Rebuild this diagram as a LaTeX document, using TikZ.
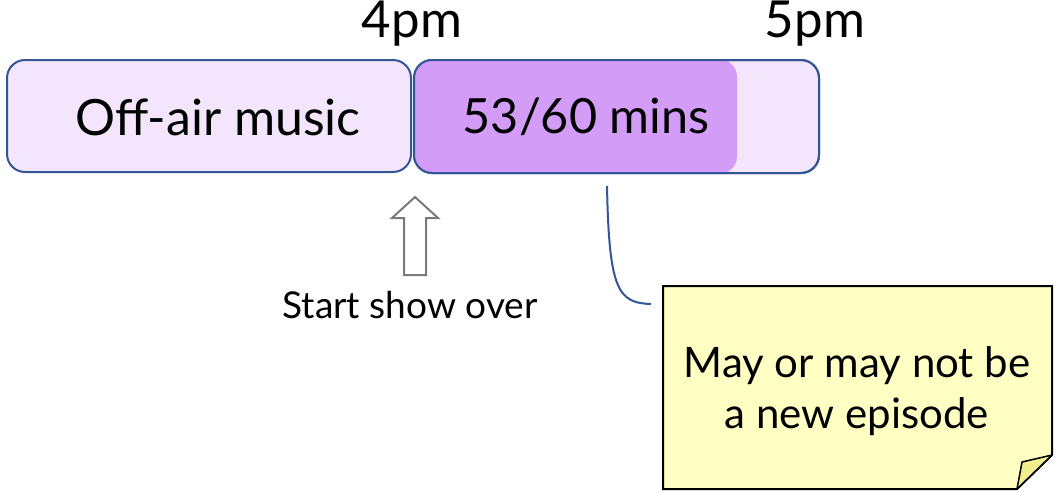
\documentclass[tikz,border=0pt]{standalone}
\usepackage{fontspec}
\setmainfont{Lato}
\usetikzlibrary{calc}
\definecolor{bordblue}{RGB}{52,86,150}
\definecolor{lav}{RGB}{243,229,252}
\definecolor{prog}{RGB}{211,156,246}
\definecolor{arrgrey}{RGB}{122,122,122}
\definecolor{notefill}{RGB}{255,255,195}
\definecolor{foldfill}{RGB}{240,238,142}
\tikzset{
  slot/.style={draw=bordblue, line width=2pt, fill=lav, rounded corners=18pt, inner sep=0pt},
  bigtxt/.style={font=\fontsize{50}{56}\selectfont, inner sep=0pt},
  timetxt/.style={font=\fontsize{51}{56}\selectfont, inner sep=0pt, text height=32pt, text depth=10pt},
}
\begin{document}
\begin{tikzpicture}[x=1pt,y=-1pt]
\useasboundingbox (0,0) rectangle (1056,491);
% boxes
\node[slot, minimum width=404pt, minimum height=112pt] (off) at (209,116) {};
\node[slot, minimum width=405pt, minimum height=113pt] (show) at (616.5,116.5) {};
\begin{scope}
  \clip[rounded corners=18pt] (414,60) rectangle (819,173);
  \fill[prog, rounded corners=18pt] (413,59) rectangle (737,174);
\end{scope}
\draw[bordblue, line width=2pt, rounded corners=18pt] (414,60) rectangle (819,173);
\node[bigtxt] (offt) at (218,117) {Off-air music};
\node[font=\fontsize{48.5}{56}\selectfont, inner sep=0pt] (showt) at (586,117) {53/60 mins};
% times
\node[timetxt, anchor=base] (t4) at (412,37) {4pm};
\node[timetxt, anchor=base] (t5) at (815,37) {5pm};
% hollow arrow
\draw[arrgrey, line width=2pt, line join=miter, fill=white]
  (404,275) -- (404,218) -- (392,218) -- (415,197) -- (438,218) -- (426,218) -- (426,275) -- cycle;
\node[font=\fontsize{37}{42}\selectfont, inner sep=0pt] (start) at (410,305) {Start show over};
% note
\coordinate (nA) at (663,286);
\coordinate (nB) at (1052,286);
\coordinate (nC) at (1052,455);
\coordinate (nD) at (1017,489);
\coordinate (nE) at (663,489);
\coordinate (nF) at (1022,462);
\draw[black, line width=2pt, fill=notefill, line join=miter] (nA) -- (nB) -- (nC) -- (nD) -- (nE) -- cycle;
\draw[black, line width=1.5pt, fill=foldfill, line join=round] (nC) -- (nF) -- (nD) -- cycle;
\node[font=\fontsize{42}{51}\selectfont, align=center, inner sep=0pt] (note) at (857,391) {May or may not be\\a new episode};
% callout
\coordinate (cs) at (607,186);
\coordinate (ce) at (651,304);
\draw[bordblue, line width=2pt] (cs) .. controls (609,290) and (618,303) .. (ce);
\end{tikzpicture}
\end{document}
